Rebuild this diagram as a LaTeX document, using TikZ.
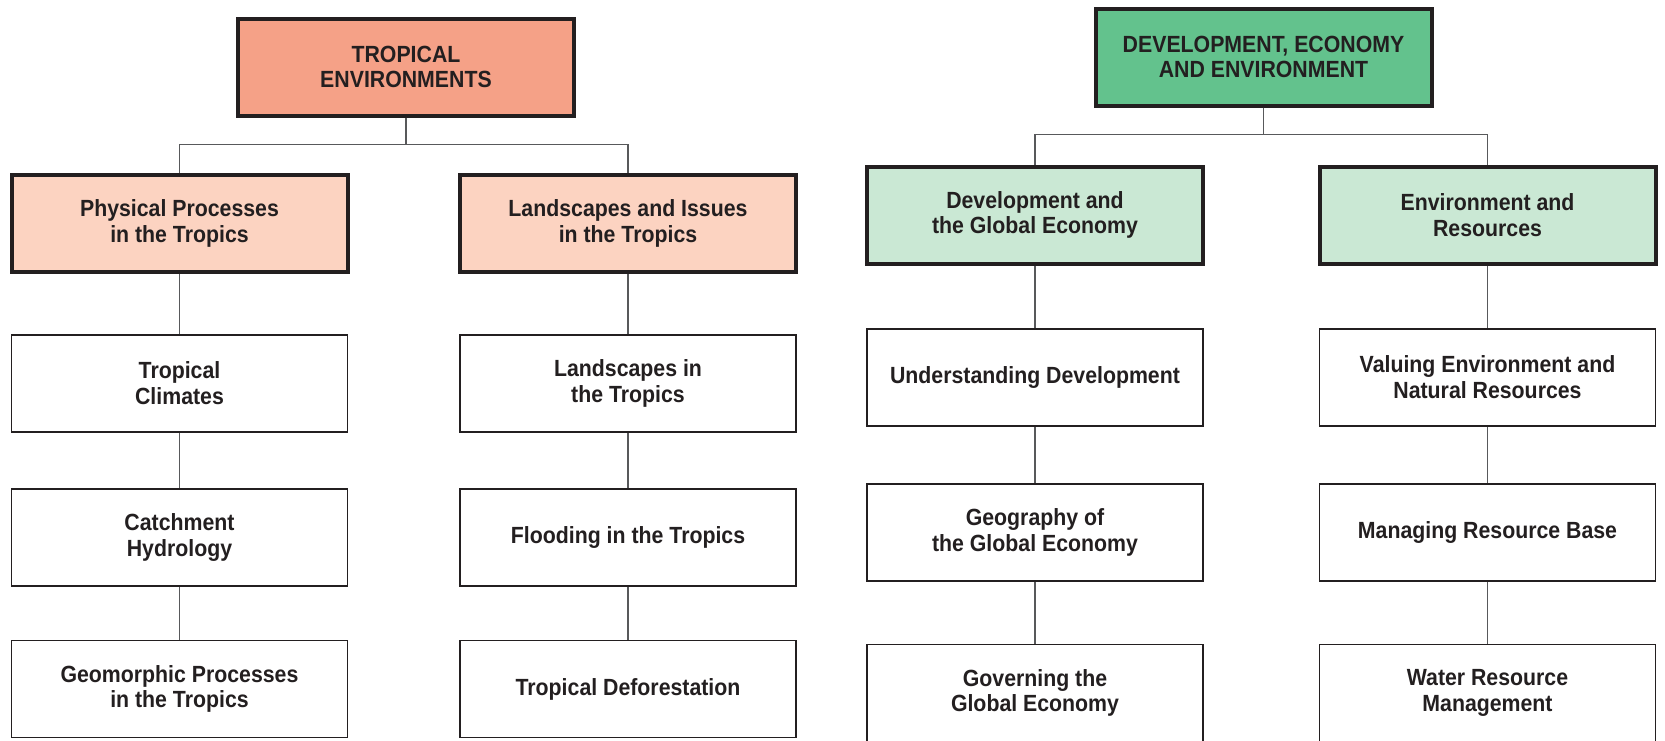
\documentclass[tikz,border=0pt]{standalone}
\usepackage{fontspec}
\setmainfont{Liberation Sans}[FakeStretch=0.91]
\usepackage{tikz}
\definecolor{tsalmon}{HTML}{F5A187}
\definecolor{tpeach}{HTML}{FCD3C1}
\definecolor{tgreen}{HTML}{63C28D}
\definecolor{tmint}{HTML}{CAE8D4}
\definecolor{tink}{HTML}{231F20}
\definecolor{tline}{HTML}{58595B}

\begin{document}
\begin{tikzpicture}[x=0.5pt, y=-0.5pt]
    \tikzset{
      box/.style={
        rectangle,
        draw=tink,
        text=tink,
        align=center,
        inner sep=0pt,
        minimum width=168pt,
        minimum height=48.5pt,
        font=\bfseries\fontsize{11.7}{12.9}\selectfont},
      hd/.style={box, line width=2pt},
      tp/.style={box, fill=white, line width=0.8pt},
      ln/.style={draw=tline, line width=0.7pt}}
    \useasboundingbox (0, 0) rectangle (1665, 740);
    % tropical environments
    \node[hd, fill=tsalmon] at (406, 67) (a) {TROPICAL\\ENVIRONMENTS};
    \node[hd, fill=tpeach] at (179.5, 223.5) (a1) {Physical Processes\\in the Tropics};
    \node[hd, fill=tpeach] at (628, 223.5) (a2) {Landscapes and Issues\\in the Tropics};
    \node[tp] at (179.5, 383.5) (a11) {Tropical\\Climates};
    \node[tp] at (179.5, 537.5) (a12) {Catchment\\Hydrology};
    \node[tp] at (179.5, 689) (a13) {Geomorphic Processes\\in the Tropics};
    \node[tp] at (628, 383.5) (a21) {Landscapes in\\the Tropics};
    \node[tp] at (628, 537.5) (a22) {Flooding in the Tropics};
    \node[tp] at (628, 689) (a23) {Tropical Deforestation};
    % development, economy and environment
    \node[hd, fill=tgreen] at (1263.5, 57) (b) {DEVELOPMENT, ECONOMY\\AND ENVIRONMENT};
    \node[hd, fill=tmint] at (1035, 215) (b1) {Development and\\the Global Economy};
    \node[hd, fill=tmint] at (1487.5, 215) (b2) {Environment and\\Resources};
    \node[tp] at (1035, 377.5) (b11) {Understanding Development};
    \node[tp] at (1035, 532.5) (b12) {Geography of\\the Global Economy};
    \node[tp] at (1035, 693) (b13) {Governing the\\Global Economy};
    \node[tp] at (1487.5, 377.5) (b21) {Valuing Environment and\\Natural Resources};
    \node[tp] at (1487.5, 532.5) (b22) {Managing Resource Base};
    \node[tp] at (1487.5, 693) (b23) {Water Resource\\Management};
    \begin{scope}[on background layer/.try]
    \draw[ln] (a.south) -- ++(0, 27) -| (a1.north);
    \draw[ln] (a.south) -- ++(0, 27) -| (a2.north);
    \draw[ln] (a1) -- (a11) -- (a12) -- (a13);
    \draw[ln] (a2) -- (a21) -- (a22) -- (a23);
    \draw[ln] (b.south) -- ++(0, 27) -| (b1.north);
    \draw[ln] (b.south) -- ++(0, 27) -| (b2.north);
    \draw[ln] (b1) -- (b11) -- (b12) -- (b13);
    \draw[ln] (b2) -- (b21) -- (b22) -- (b23);
    \end{scope}
  \end{tikzpicture}
\end{document}
